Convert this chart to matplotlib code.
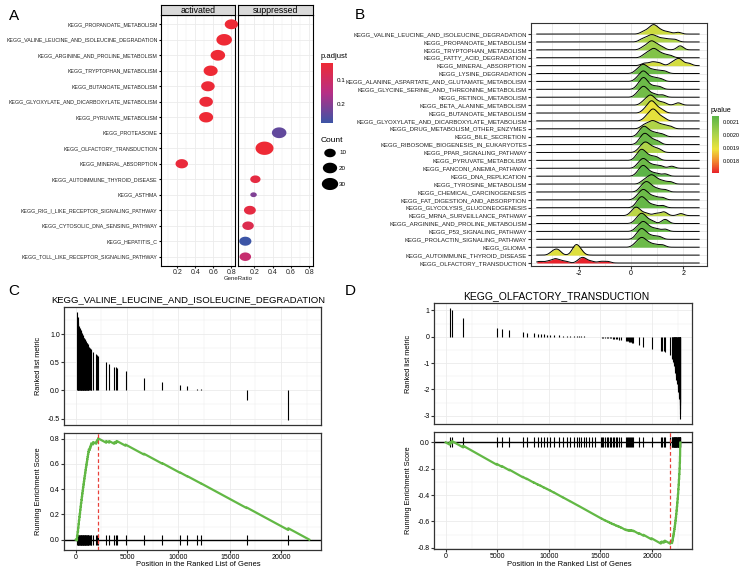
import numpy as np
import matplotlib
matplotlib.use('Agg')
import matplotlib.pyplot as plt
from matplotlib.path import Path
from matplotlib.colors import LinearSegmentedColormap, Normalize
from matplotlib.cm import ScalarMappable

plt.rcParams['font.family'] = ['Liberation Sans', 'DejaVu Sans']
plt.rcParams['axes.unicode_minus'] = False

# ---------------- panel A data ----------------
act_terms = ['KEGG_PROPANOATE_METABOLISM',
             'KEGG_VALINE_LEUCINE_AND_ISOLEUCINE_DEGRADATION',
             'KEGG_ARGININE_AND_PROLINE_METABOLISM',
             'KEGG_TRYPTOPHAN_METABOLISM',
             'KEGG_BUTANOATE_METABOLISM',
             'KEGG_GLYOXYLATE_AND_DICARBOXYLATE_METABOLISM',
             'KEGG_PYRUVATE_METABOLISM',
             'KEGG_MINERAL_ABSORPTION']
act_ratio = [0.80, 0.72, 0.65, 0.57, 0.54, 0.52, 0.52, 0.25]
act_count = [16, 26, 21, 19, 17, 17, 19, 13]
act_padj = [0.03, 0.03, 0.03, 0.03, 0.035, 0.035, 0.03, 0.04]

sup_terms = ['KEGG_PROTEASOME',
             'KEGG_OLFACTORY_TRANSDUCTION',
             'KEGG_AUTOIMMUNE_THYROID_DISEASE',
             'KEGG_ASTHMA',
             'KEGG_RIG_I_LIKE_RECEPTOR_SIGNALING_PATHWAY',
             'KEGG_CYTOSOLIC_DNA_SENSING_PATHWAY',
             'KEGG_HEPATITIS_C',
             'KEGG_TOLL_LIKE_RECEPTOR_SIGNALING_PATHWAY']
sup_ratio = [0.47, 0.31, 0.21, 0.19, 0.15, 0.13, 0.10, 0.10]
sup_count = [21, 40, 7, 3, 11, 10, 12, 10]
sup_padj = [0.24, 0.03, 0.05, 0.21, 0.05, 0.07, 0.28, 0.12]

a_order = ['KEGG_PROPANOATE_METABOLISM',
           'KEGG_VALINE_LEUCINE_AND_ISOLEUCINE_DEGRADATION',
           'KEGG_ARGININE_AND_PROLINE_METABOLISM',
           'KEGG_TRYPTOPHAN_METABOLISM',
           'KEGG_BUTANOATE_METABOLISM',
           'KEGG_GLYOXYLATE_AND_DICARBOXYLATE_METABOLISM',
           'KEGG_PYRUVATE_METABOLISM',
           'KEGG_PROTEASOME',
           'KEGG_OLFACTORY_TRANSDUCTION',
           'KEGG_MINERAL_ABSORPTION',
           'KEGG_AUTOIMMUNE_THYROID_DISEASE',
           'KEGG_ASTHMA',
           'KEGG_RIG_I_LIKE_RECEPTOR_SIGNALING_PATHWAY',
           'KEGG_CYTOSOLIC_DNA_SENSING_PATHWAY',
           'KEGG_HEPATITIS_C',
           'KEGG_TOLL_LIKE_RECEPTOR_SIGNALING_PATHWAY']
count_breaks = [10, 20, 30]

# ---------------- panel B data ----------------
b_terms = ['KEGG_VALINE_LEUCINE_AND_ISOLEUCINE_DEGRADATION',
           'KEGG_PROPANOATE_METABOLISM',
           'KEGG_TRYPTOPHAN_METABOLISM',
           'KEGG_FATTY_ACID_DEGRADATION',
           'KEGG_MINERAL_ABSORPTION',
           'KEGG_LYSINE_DEGRADATION',
           'KEGG_ALANINE_ASPARTATE_AND_GLUTAMATE_METABOLISM',
           'KEGG_GLYCINE_SERINE_AND_THREONINE_METABOLISM',
           'KEGG_RETINOL_METABOLISM',
           'KEGG_BETA_ALANINE_METABOLISM',
           'KEGG_BUTANOATE_METABOLISM',
           'KEGG_GLYOXYLATE_AND_DICARBOXYLATE_METABOLISM',
           'KEGG_DRUG_METABOLISM_OTHER_ENZYMES',
           'KEGG_BILE_SECRETION',
           'KEGG_RIBOSOME_BIOGENESIS_IN_EUKARYOTES',
           'KEGG_PPAR_SIGNALING_PATHWAY',
           'KEGG_PYRUVATE_METABOLISM',
           'KEGG_FANCONI_ANEMIA_PATHWAY',
           'KEGG_DNA_REPLICATION',
           'KEGG_TYROSINE_METABOLISM',
           'KEGG_CHEMICAL_CARCINOGENESIS',
           'KEGG_FAT_DIGESTION_AND_ABSORPTION',
           'KEGG_GLYCOLYSIS_GLUCONEOGENESIS',
           'KEGG_MRNA_SURVEILLANCE_PATHWAY',
           'KEGG_ARGININE_AND_PROLINE_METABOLISM',
           'KEGG_P53_SIGNALING_PATHWAY',
           'KEGG_PROLACTIN_SIGNALING_PATHWAY',
           'KEGG_GLIOMA',
           'KEGG_AUTOIMMUNE_THYROID_DISEASE',
           'KEGG_OLFACTORY_TRANSDUCTION']
b_pvalue = [0.00195, 0.00200, 0.00203, 0.00208, 0.00194, 0.00212, 0.00213, 0.00212,
            0.00211, 0.00198, 0.00190, 0.00191, 0.00200, 0.00212, 0.00212, 0.00200,
            0.00213, 0.00212, 0.00215, 0.00211, 0.00212, 0.00212, 0.00213, 0.00198,
            0.00212, 0.00213, 0.00212, 0.00212, 0.00192, 0.00171]
b_logfc = [
    [0.45, 0.6, 0.7, 0.78, 0.82, 0.86, 0.9, 0.95, 1.02, 1.12, 1.25, 1.45, 1.8],
    [0.4, 0.55, 0.68, 0.75, 0.82, 0.9, 1.0, 1.15, 1.3, 1.5, 1.7],
    [0.45, 0.6, 0.7, 0.76, 0.8, 0.85, 0.95, 1.05, 1.2, 1.85, 1.9],
    [0.5, 0.62, 0.72, 0.8, 0.85, 0.9, 0.95, 1.05, 1.15, 1.3, 1.5],
    [0.5, 0.75, 0.9, 1.1, 1.55, 1.7, 1.8, 1.85, 1.95, 2.2],
    [0.2, 0.32, 0.4, 0.45, 0.5, 0.55, 0.65, 0.78, 0.92, 1.1, 1.3],
    [0.22, 0.35, 0.42, 0.46, 0.5, 0.56, 0.66, 0.8, 0.95, 1.15],
    [0.25, 0.36, 0.42, 0.46, 0.5, 0.54, 0.6, 0.72, 0.9, 1.1],
    [0.22, 0.34, 0.41, 0.46, 0.5, 0.55, 0.62, 0.75, 0.92, 1.2],
    [0.45, 0.58, 0.66, 0.72, 0.76, 0.82, 0.9, 1.05, 1.25, 1.8],
    [0.5, 0.62, 0.7, 0.75, 0.78, 0.82, 0.86, 0.95, 1.05, 1.2],
    [0.55, 0.66, 0.74, 0.8, 0.84, 0.87, 0.92, 1.0, 1.1, 1.25],
    [0.45, 0.58, 0.7, 0.78, 0.84, 0.92, 1.02, 1.15, 1.3, 1.5],
    [0.3, 0.4, 0.46, 0.5, 0.55, 0.62, 0.72, 0.85, 1.0, 1.2],
    [0.32, 0.42, 0.48, 0.53, 0.58, 0.65, 0.75, 0.88, 1.05],
    [0.3, 0.42, 0.48, 0.53, 0.58, 0.64, 0.72, 0.82, 0.95, 1.1],
    [0.2, 0.3, 0.36, 0.4, 0.44, 0.5, 0.58, 0.7, 0.85, 1.0],
    [0.25, 0.35, 0.42, 0.46, 0.5, 0.56, 0.65, 0.78, 0.95, 1.15, 1.55],
    [0.25, 0.36, 0.42, 0.46, 0.5, 0.56, 0.66, 0.8, 1.0, 1.3],
    [0.45, 0.58, 0.68, 0.75, 0.8, 0.86, 0.95, 1.08, 1.25, 1.5],
    [0.35, 0.45, 0.52, 0.58, 0.62, 0.68, 0.76, 0.88, 1.05, 1.3],
    [0.22, 0.34, 0.41, 0.46, 0.5, 0.56, 0.65, 0.78, 0.95, 1.2],
    [0.2, 0.3, 0.36, 0.4, 0.44, 0.5, 0.58, 0.7, 0.9, 1.2],
    [0.02, 0.12, 0.18, 0.22, 0.28, 0.4, 0.6, 0.95, 1.2, 1.3, 1.9],
    [0.18, 0.3, 0.36, 0.4, 0.45, 0.52, 0.62, 0.8, 1.25, 1.35],
    [0.2, 0.32, 0.4, 0.45, 0.5, 0.56, 0.65, 0.8, 1.0, 1.3],
    [0.2, 0.3, 0.36, 0.4, 0.45, 0.5, 0.6, 0.72, 0.9, 1.1],
    [0.15, 0.28, 0.35, 0.4, 0.45, 0.52, 0.62, 0.75, 0.95, 1.2],
    [-3.0, -2.85, -2.75, -2.2, -2.12, -2.08, -2.02, -1.9],
    [-3.5, -3.2, -3.0, -2.9, -2.85, -2.7, -2.5, -2.0, -1.9, -1.85, -1.8, -1.7, -1.5, -1.15, -0.9],
]
b_range = (-3.6, 2.6)

# ---------------- panel C / D data ----------------
n_genes = 22750
c_title = 'KEGG_VALINE_LEUCINE_AND_ISOLEUCINE_DEGRADATION'
c_pos = [130, 180, 230, 270, 310, 350, 390, 430, 470, 510, 550, 590, 630, 670, 710,
         750, 790, 830, 870, 910, 950, 990, 1030, 1070, 1110, 1150, 1190, 1230, 1270,
         1380, 1450, 1510, 1700, 2000, 2100, 2177,
         2970, 3260, 3750, 3900, 4000, 4850, 6640, 8430, 10200, 10850,
         11850, 12200, 16650, 20700]
c_metric = [1.39, 1.30, 1.22, 1.18, 1.15, 1.13, 1.11, 1.09, 1.07, 1.05, 1.04, 1.02, 1.00,
            0.98, 0.97, 0.95, 0.94, 0.93, 0.92, 0.90, 0.89, 0.88, 0.86, 0.85, 0.84, 0.82,
            0.80, 0.79, 0.77, 0.75, 0.74, 0.72, 0.69, 0.64, 0.63, 0.62,
            0.505, 0.47, 0.42, 0.41, 0.40, 0.34, 0.23, 0.15, 0.09, 0.07,
            0.03, 0.025, -0.17, -0.52]

d_title = 'KEGG_OLFACTORY_TRANSDUCTION'
d_pos = [390, 585, 1690, 4940, 5430, 6175, 7475, 7865, 8515, 8905, 9200, 9490, 9815,
         10140, 10530, 10950, 11375, 11765, 12025, 12480, 12750, 12900, 13150, 13390,
         13650, 13940, 14200, 14500,
         15015, 15150, 15300, 15450, 15600, 15750, 15900, 16050, 16200, 16350, 16500,
         16650, 16800, 16965, 17450, 17550, 17650, 17750, 17850, 17950, 18050, 18200,
         18750, 19175, 19960, 20865, 20950, 21150, 21255, 21775,
         21960, 21995, 22030, 22065, 22100, 22135, 22170, 22205, 22240, 22275, 22310,
         22345, 22380, 22415, 22450, 22485, 22520, 22555, 22585, 22615, 22645, 22675,
         22700, 22720, 22735, 22745]
d_metric = [1.07, 1.00, 0.70, 0.34, 0.30, 0.27, 0.17, 0.16, 0.13, 0.11, 0.10, 0.09, 0.08,
            0.07, 0.06, 0.05, 0.04, 0.035, 0.03, 0.025, 0.02, 0.015, 0.012, 0.01,
            0.008, 0.005, 0.003, 0.002,
            -0.02, -0.03, -0.04, -0.045, -0.05, -0.055, -0.06, -0.065, -0.07, -0.08, -0.09,
            -0.10, -0.11, -0.12, -0.16, -0.17, -0.18, -0.19, -0.20, -0.21, -0.22, -0.23,
            -0.30, -0.38, -0.45, -0.53, -0.54, -0.56, -0.58, -0.70,
            -0.80, -0.85, -0.90, -0.95, -1.00, -1.05, -1.12, -1.20, -1.28, -1.36, -1.45,
            -1.54, -1.63, -1.72, -1.81, -1.90, -1.99, -2.08, -2.17, -2.27, -2.37, -2.48,
            -2.60, -2.75, -2.92, -3.10]

# ---------------- layout helpers ----------------
W, H = 743, 570
fig = plt.figure(figsize=(W / 100, H / 100), dpi=100)


def px_axes(l, t, r, b):
    return fig.add_axes([l / W, 1 - b / H, (r - l) / W, (b - t) / H])


def px_text(x, y, s, **kw):
    return fig.text(x / W, 1 - y / H, s, **kw)


grid_col = '#EBEBEB'
frame_col = '#333333'

# ellipse marker (dots in the source are a bit wide)
tt = np.linspace(0, 2 * np.pi, 64)
ell = Path(np.column_stack([1.35 * np.cos(tt), np.sin(tt)]))

# ---------------- panel A ----------------
padj_cmap = LinearSegmentedColormap.from_list('padj', ['#EE2A35', '#B62F86', '#3C55A6'])
all_padj = act_padj + sup_padj
padj_norm = Normalize(min(all_padj), max(all_padj))
all_count = act_count + sup_count
cmin, cmax = min(all_count), max(all_count)


def dot_s(c):
    w = 6.5 + 11.5 * np.sqrt((np.asarray(c, float) - cmin) / (cmax - cmin))
    return (w * 0.72) ** 2


ny = len(a_order)
ypos = {t: ny - 1 - i for i, t in enumerate(a_order)}

facets = [('activated', act_terms, act_ratio, act_count, act_padj, (161, 235)),
          ('suppressed', sup_terms, sup_ratio, sup_count, sup_padj, (238, 313))]
for k, (lab, terms, ratio, count, padj, (l, r)) in enumerate(facets):
    ax = px_axes(l, 15, r, 266)
    ax.set_xlim(0.02, 0.84)
    ax.set_ylim(-0.6, ny - 0.4)
    ax.set_xticks([0.2, 0.4, 0.6, 0.8])
    ax.set_xticks([0.1, 0.3, 0.5, 0.7], minor=True)
    ax.set_yticks(range(ny))
    ax.grid(True, which='major', color=grid_col, lw=0.6)
    ax.grid(True, which='minor', axis='x', color=grid_col, lw=0.35)
    ax.set_axisbelow(True)
    ax.scatter(ratio, [ypos[t] for t in terms], s=dot_s(count), c=padj,
               cmap=padj_cmap, norm=padj_norm, marker=ell, linewidths=0,
               clip_on=False, zorder=3)
    ax.tick_params(axis='x', labelsize=5, length=1.5, pad=0.5, colors='#222222')
    ax.tick_params(which='minor', length=0)
    if k == 0:
        ax.set_yticklabels(a_order[::-1], fontsize=3.8, color='#222222')
        ax.tick_params(axis='y', length=1.5, pad=1)
    else:
        ax.tick_params(axis='y', left=False, labelleft=False)
    for sp in ax.spines.values():
        sp.set_color('black')
        sp.set_linewidth(0.8)
    st = px_axes(l, 5, r, 15)
    st.set_facecolor('#D9D9D9')
    st.set_xticks([])
    st.set_yticks([])
    for sp in st.spines.values():
        sp.set_color('black')
        sp.set_linewidth(0.8)
    st.text(0.5, 0.45, lab, ha='center', va='center', fontsize=6.3, transform=st.transAxes)

px_text(238, 279, 'GeneRatio', fontsize=4.3, ha='center', va='center', color='#222222')

cax = px_axes(321, 63, 333, 123)
cb = fig.colorbar(ScalarMappable(padj_norm, padj_cmap), cax=cax)
cb.outline.set_visible(False)
cax.invert_yaxis()
cb.set_ticks([0.1, 0.2])
cb.set_ticklabels(['0.1', '0.2'])
cax.tick_params(labelsize=4.5, length=2, color='white', pad=1)
px_text(321, 57, 'p.adjust', fontsize=5.5, va='center')

px_text(321, 141, 'Count', fontsize=6, va='center')
lax = px_axes(318, 145, 355, 195)
lax.set_xlim(318, 355)
lax.set_ylim(195, 145)
lax.axis('off')
leg_y = [153, 168, 184]
lax.scatter([330] * 3, leg_y, s=dot_s(count_breaks), color='black', marker=ell,
            linewidths=0, clip_on=False)
for yy, c in zip(leg_y, count_breaks):
    lax.text(339, yy, str(c), fontsize=4.5, va='center')

# ---------------- panel B ----------------
pv_cmap = LinearSegmentedColormap.from_list(
    'pv', [(0, '#E8212A'), (0.2, '#F2852F'), (0.42, '#EDE33A'), (0.7, '#A6D14A'), (1, '#5BB447')])
pv_norm = Normalize(min(b_pvalue), max(b_pvalue))

axb = px_axes(531, 23, 707, 266)
nb = len(b_terms)
xg = np.linspace(b_range[0], b_range[1], 600)
bw = 0.12


def kde(vals, grid):
    v = np.asarray(vals)[:, None]
    return np.exp(-0.5 * ((grid[None, :] - v) / bw) ** 2).sum(0) / (len(vals) * bw * np.sqrt(2 * np.pi))


dens = [kde(v, xg) for v in b_logfc]
hscale = 1.55 / max(d.max() for d in dens)
for i, (d, p) in enumerate(zip(dens, b_pvalue)):
    y0 = nb - 1 - i
    axb.fill_between(xg, y0, y0 + d * hscale, color=pv_cmap(pv_norm(p)), lw=0, zorder=2 + 2 * i)
    axb.plot(xg, y0 + d * hscale, color='black', lw=0.7, zorder=3 + 2 * i)
axb.set_xlim(-3.82, 2.9)
axb.set_ylim(-0.38, nb + 0.4)
axb.set_xticks([-2, 0, 2])
axb.set_xticks([-3, -1, 1], minor=True)
axb.set_yticks(range(nb))
axb.set_yticklabels(b_terms[::-1], fontsize=4.3, color='#222222')
axb.grid(True, which='both', axis='x', color='#E3E3E3', lw=0.5)
axb.grid(True, axis='y', color='#E3E3E3', lw=0.5)
axb.set_axisbelow(True)
axb.tick_params(axis='both', labelsize=5, length=2, pad=1, color=frame_col)
axb.tick_params(axis='y', labelsize=4.3)
axb.tick_params(which='minor', length=0)
for sp in axb.spines.values():
    sp.set_color(frame_col)
    sp.set_linewidth(0.8)

cax2 = px_axes(712, 116, 719, 173)
cb2 = fig.colorbar(ScalarMappable(pv_norm, pv_cmap), cax=cax2)
cb2.outline.set_visible(False)
cb2.set_ticks([0.0018, 0.0019, 0.0020, 0.0021])
cb2.set_ticklabels(['0.0018', '0.0019', '0.0020', '0.0021'])
cax2.tick_params(labelsize=4, length=1.5, color='white', pad=1)
px_text(711, 111, 'pvalue', fontsize=5, va='center')


# ---------------- panels C / D ----------------
def running_es(pos, metric, n):
    w = np.zeros(n)
    w[np.asarray(pos)] = np.abs(metric)
    hit = w > 0
    return np.cumsum(w) / w.sum() - np.cumsum(~hit) / (n - hit.sum())


def style(ax, ymaj, ymin):
    ax.set_xlim(-1140, n_genes * 1.05)
    ax.set_xticks([0, 5000, 10000, 15000, 20000])
    ax.set_xticks([2500, 7500, 12500, 17500, 22500], minor=True)
    ax.set_yticks(ymaj)
    ax.set_yticks(ymin, minor=True)
    ax.grid(True, which='major', color=grid_col, lw=0.6)
    ax.grid(True, which='minor', color=grid_col, lw=0.35)
    ax.set_axisbelow(True)
    ax.tick_params(labelsize=5, length=2, pad=1, color=frame_col)
    ax.tick_params(which='minor', length=0)
    for sp in ax.spines.values():
        sp.set_color(frame_col)
        sp.set_linewidth(0.9)


gsea = [(c_pos, c_metric, c_title, (64, 307, 321, 425), (64, 433, 321, 550), 188, 300, 6.8,
         [-0.5, 0.0, 0.5, 1.0], [-0.25, 0.25, 0.75, 1.25],
         [0.0, 0.2, 0.4, 0.6, 0.8], [0.1, 0.3, 0.5, 0.7], 38, '{:.1f}'),
        (d_pos, d_metric, d_title, (434, 303, 692, 424), (434, 432, 692, 549), 556, 296, 7.5,
         [-3, -2, -1, 0, 1], [-2.5, -1.5, -0.5, 0.5],
         [-0.8, -0.6, -0.4, -0.2, 0.0], [-0.7, -0.5, -0.3, -0.1], 408, '{:.0f}')]

for (pos, metric, title, rt, rb, tx, ty, tfs, tmaj, tmin, bmaj, bmin, ylx, tfmt) in gsea:
    axt = px_axes(*rt)
    axt.vlines(pos, 0, metric, color='black', lw=0.8)
    lo, hi = min(min(metric), 0), max(max(metric), 0)
    pad = 0.05 * (hi - lo)
    axt.set_ylim(lo - pad, hi + pad)
    style(axt, tmaj, tmin)
    axt.set_yticklabels([tfmt.format(v) for v in tmaj])
    axt.tick_params(axis='x', labelbottom=False, length=0)

    es = running_es(pos, metric, n_genes)
    axe = px_axes(*rb)
    peak = int(np.argmax(np.abs(es)))
    h = 0.05 * np.abs(es).max()
    axe.axhline(0, color='black', lw=1.0, zorder=2)
    axe.vlines(pos, -h, h, color='black', lw=0.8, zorder=3)
    axe.plot(np.arange(n_genes), es, color='#62B845', lw=1.6, zorder=4)
    axe.axvline(peak, color='#E8403A', lw=0.9, ls=(0, (3, 2)), zorder=5)
    lo, hi = min(es.min(), -h), max(es.max(), h)
    pad = 0.05 * (hi - lo)
    axe.set_ylim(lo - pad, hi + pad)
    style(axe, bmaj, bmin)
    axe.set_yticklabels(['{:.1f}'.format(v) for v in bmaj])

    px_text(tx, ty, title, fontsize=tfs, ha='center', va='center')
    px_text(ylx, (rt[1] + rt[3]) / 2, 'Ranked list metric', fontsize=5.3,
            rotation=90, ha='center', va='center')
    px_text(ylx, (rb[1] + rb[3]) / 2, 'Running Enrichment Score', fontsize=5.3,
            rotation=90, ha='center', va='center')
    px_text((rb[0] + rb[2]) / 2 + 6, 564, 'Position in the Ranked List of Genes',
            fontsize=5.5, ha='center', va='center')

# panel letters
for lab, x, y in [('A', 14, 16), ('B', 360, 15), ('C', 14, 291), ('D', 350, 291)]:
    px_text(x, y, lab, fontsize=11, ha='center', va='center')

fig.savefig('out.png', dpi=100)
